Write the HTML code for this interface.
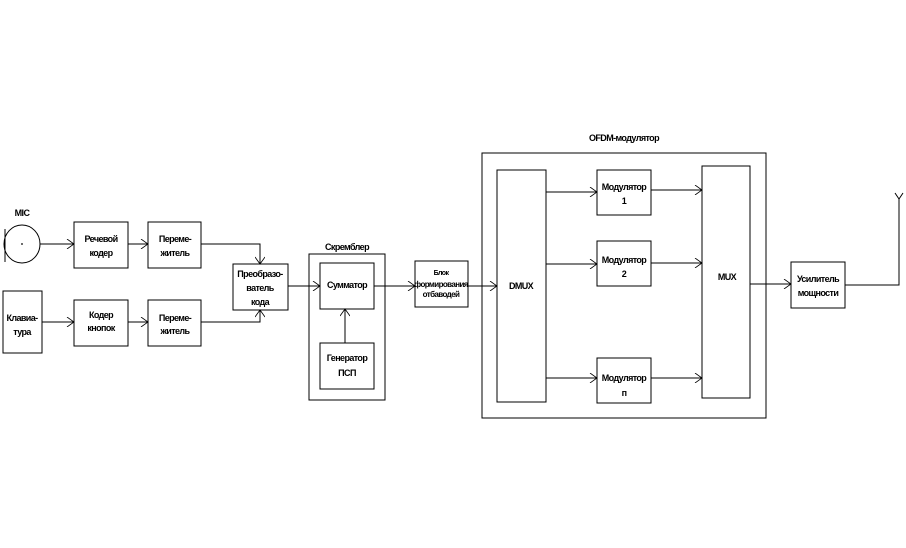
<!DOCTYPE html>
<html><head><meta charset="utf-8"><style>
html,body{margin:0;padding:0;background:#fff;}
svg{display:block;}
text{font-family:"Liberation Sans",sans-serif;font-size:9px;font-weight:bold;fill:#000;text-anchor:middle;letter-spacing:-0.6px;}
</style></head><body>
<svg width="906" height="548" viewBox="0 0 906 548" xmlns="http://www.w3.org/2000/svg">
<defs>
<marker id="a" markerWidth="10" markerHeight="10" refX="8" refY="5" orient="auto" markerUnits="userSpaceOnUse">
<path d="M1,0 L8,5 L1,10" fill="none" stroke="#000" stroke-width="0.8"/>
</marker>
</defs>
<g fill="none" stroke="#000" stroke-width="1">
<!-- MIC -->
<ellipse cx="22" cy="244" rx="18" ry="19"/>
<line x1="5" y1="229" x2="5" y2="262"/>
<circle cx="22" cy="244" r="0.4"/>
<rect x="74" y="222" width="54" height="46"/>
<rect x="148" y="222" width="53" height="46"/>
<rect x="3" y="291" width="39" height="62"/>
<rect x="74" y="300" width="54" height="46"/>
<rect x="148" y="300" width="53" height="46"/>
<rect x="233" y="264" width="55" height="46"/>
<rect x="309" y="254" width="76" height="146"/>
<rect x="320" y="263" width="54" height="46"/>
<rect x="320" y="343" width="54" height="46"/>
<rect x="415" y="261" width="53" height="46"/>
<rect x="482" y="153" width="284" height="265"/>
<rect x="497" y="170" width="49" height="232"/>
<rect x="597" y="170" width="54" height="45"/>
<rect x="597" y="241" width="54" height="45"/>
<rect x="597" y="358" width="54" height="45"/>
<rect x="702" y="166" width="48" height="232"/>
<rect x="791" y="262" width="54" height="46"/>

<line x1="40" y1="244" x2="74" y2="244" marker-end="url(#a)"/>
<line x1="128" y1="244" x2="148" y2="244" marker-end="url(#a)"/>
<polyline points="201,244 260,244 260,264" marker-end="url(#a)"/>
<line x1="42" y1="322" x2="74" y2="322" marker-end="url(#a)"/>
<line x1="128" y1="322" x2="148" y2="322" marker-end="url(#a)"/>
<polyline points="201,322 260,322 260,310" marker-end="url(#a)"/>
<line x1="288" y1="286" x2="320" y2="286" marker-end="url(#a)"/>
<line x1="345" y1="343" x2="345" y2="309" marker-end="url(#a)"/>
<line x1="374" y1="286" x2="415" y2="286" marker-end="url(#a)"/>
<line x1="468" y1="286" x2="497" y2="286" marker-end="url(#a)"/>
<line x1="546" y1="192" x2="597" y2="192" marker-end="url(#a)"/>
<line x1="546" y1="264" x2="597" y2="264" marker-end="url(#a)"/>
<line x1="546" y1="378" x2="597" y2="378" marker-end="url(#a)"/>
<line x1="651" y1="190" x2="702" y2="190" marker-end="url(#a)"/>
<line x1="651" y1="263" x2="702" y2="263" marker-end="url(#a)"/>
<line x1="651" y1="378" x2="702" y2="378" marker-end="url(#a)"/>
<line x1="750" y1="284" x2="791" y2="284" marker-end="url(#a)"/>
<polyline points="845,285 899,285 899,198"/>
<polyline points="895,193 899,199 903,193"/>
</g>
<text x="22" y="216">MIC</text>
<text x="101" y="242">Речевой</text><text x="101" y="256">кодер</text>
<text x="175" y="242">Переме-</text><text x="175" y="256">житель</text>
<text x="22" y="321">Клавиа-</text><text x="22" y="335">тура</text>
<text x="101" y="318">Кодер</text><text x="101" y="331">кнопок</text>
<text x="175" y="321">Переме-</text><text x="175" y="334">житель</text>
<text x="260" y="277">Преобразо-</text><text x="260" y="291">ватель</text><text x="260" y="305">кода</text>
<text x="347" y="250">Скремблер</text>
<text x="347" y="288">Сумматор</text>
<text x="347" y="361">Генератор</text><text x="347" y="376">ПСП</text>
<text x="441" y="275" style="font-size:7px">Блок</text>
<text x="441" y="287" style="font-size:8px">формирования</text>
<text x="441" y="297" style="font-size:8px">отбаводей</text>
<text x="624" y="141">OFDM-модулятор</text>
<text x="521" y="289">DMUX</text>
<text x="624" y="190">Модулятор</text><text x="624" y="204">1</text>
<text x="624" y="263">Модулятор</text><text x="624" y="277">2</text>
<text x="624" y="381">Модулятор</text><text x="624" y="396">п</text>
<text x="727" y="280">MUX</text>
<text x="818" y="282">Усилитель</text><text x="818" y="296">мощности</text>
</svg>
</body></html>
